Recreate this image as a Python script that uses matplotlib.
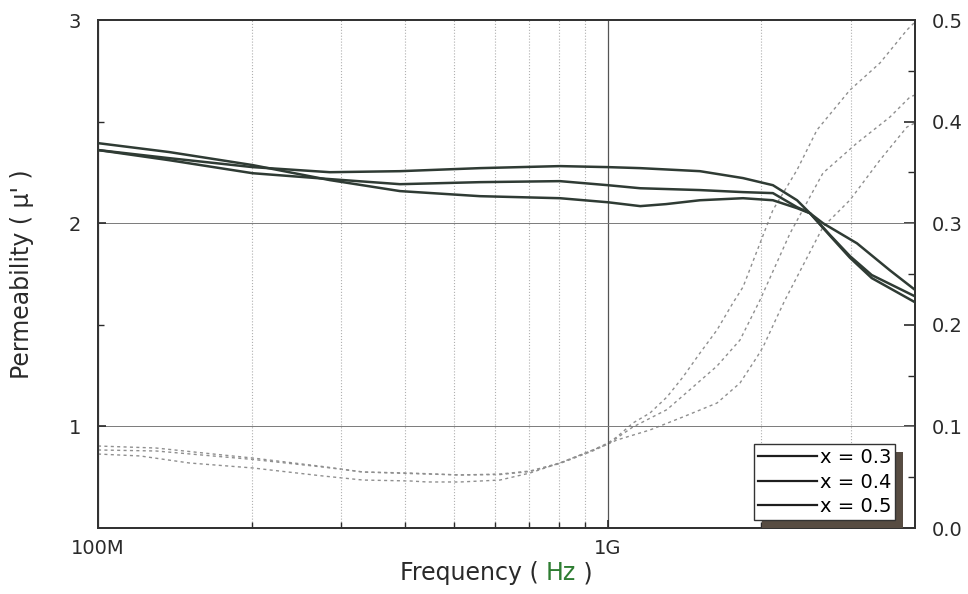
import numpy as np
import matplotlib
matplotlib.use("Agg")
import matplotlib.pyplot as plt
from matplotlib.ticker import FixedLocator, NullFormatter
from matplotlib.patches import Rectangle
from matplotlib.transforms import IdentityTransform

plt.rcParams['font.family'] = ['DejaVu Sans']

# permeabilidad real (eje izquierdo), frecuencia en MHz
f_mu_03 = [100, 138, 201, 285, 391, 561, 805, 1000, 1157, 1515, 1840, 2106, 2348, 2490, 2730, 2982, 3290, 4000]
mu_03 = [2.360, 2.320, 2.276, 2.251, 2.256, 2.271, 2.281, 2.276, 2.271, 2.256, 2.222, 2.187, 2.113, 2.049, 1.936, 1.830, 1.730, 1.611]

f_mu_04 = [100, 138, 201, 285, 391, 561, 805, 1000, 1157, 1515, 1840, 2106, 2348, 2490, 2730, 2982, 3290, 4000]
mu_04 = [2.360, 2.310, 2.246, 2.217, 2.192, 2.202, 2.207, 2.187, 2.172, 2.163, 2.153, 2.148, 2.079, 2.049, 1.940, 1.838, 1.745, 1.640]

f_mu_05 = [100, 138, 201, 285, 391, 561, 805, 1000, 1157, 1300, 1515, 1840, 2106, 2348, 2490, 2640, 3078, 3572, 4000]
mu_05 = [2.394, 2.350, 2.286, 2.212, 2.158, 2.133, 2.123, 2.103, 2.084, 2.094, 2.113, 2.123, 2.113, 2.074, 2.049, 2.000, 1.901, 1.768, 1.672]

# perdidas (eje derecho)
f_lo_a = [100, 130, 176, 201, 276, 331, 409, 513, 614, 703, 805, 935, 1000, 1041, 1119, 1209, 1305, 1403,
          1515, 1636, 1758, 1840, 2106, 2348, 2569, 2982, 3415, 3858, 4000]
lo_a = [0.0807, 0.0787, 0.0718, 0.0689, 0.0605, 0.0551, 0.0541, 0.0522, 0.0531, 0.0561, 0.0640, 0.0768, 0.0837,
        0.0896, 0.1033, 0.1132, 0.1289, 0.1486, 0.1722, 0.1949, 0.2215, 0.2372, 0.3130, 0.3524, 0.3917, 0.4311,
        0.4577, 0.4902, 0.4980]

f_lo_b = [100, 130, 176, 201, 276, 331, 409, 513, 614, 703, 805, 935, 1000, 1041, 1119, 1305, 1468, 1636,
          1815, 1987, 2275, 2640, 3078, 3572, 3910, 4000]
lo_b = [0.0768, 0.0758, 0.0700, 0.0675, 0.0600, 0.0551, 0.0536, 0.0522, 0.0526, 0.0556, 0.0635, 0.0760, 0.0827,
        0.0886, 0.0994, 0.1165, 0.1388, 0.1594, 0.1850, 0.2244, 0.2900, 0.3494, 0.3789, 0.4045, 0.4242, 0.4262]

f_lo_c = [100, 121, 151, 201, 276, 331, 409, 442, 513, 614, 703, 805, 935, 1000, 1041, 1209, 1403, 1636,
          1815, 1960, 2014, 2145, 2224, 2640, 2982, 3415, 3858, 4000]
lo_c = [0.0728, 0.0709, 0.0640, 0.0591, 0.0512, 0.0472, 0.0463, 0.0453, 0.0453, 0.0472, 0.0541, 0.0640, 0.0768,
        0.0827, 0.0866, 0.0965, 0.1093, 0.1230, 0.1427, 0.1683, 0.1781, 0.2077, 0.2244, 0.2963, 0.3228, 0.3622,
        0.3947, 0.3986]

etiquetas = ["x = 0.3", "x = 0.4", "x = 0.5"]

color_linea = '#2f3b34'
color_punto = '#8f8f8f'
color_texto = '#2a2a2a'

fig = plt.figure(figsize=(9.68, 5.94), dpi=100)
ax = fig.add_axes([98/968, 66/594, 817/968, 508/594])
ax2 = ax.twinx()

hz = lambda f: np.array(f) * 1e6

# curvas de perdidas (punteadas)
for f, v in [(f_lo_a, lo_a), (f_lo_b, lo_b), (f_lo_c, lo_c)]:
    ax2.plot(hz(f), v, color=color_punto, lw=1.0, ls=(0, (2.2, 2.4)), zorder=2)

# curvas de permeabilidad
lineas = []
for f, m in [(f_mu_03, mu_03), (f_mu_04, mu_04), (f_mu_05, mu_05)]:
    l, = ax.plot(hz(f), m, color=color_linea, lw=1.8, zorder=3)
    lineas.append(l)

ax.set_xscale('log')
ax.set_xlim(1e8, 4e9)
ax.set_ylim(0.5, 3)
ax2.set_ylim(0, 0.5)

ax.xaxis.set_major_locator(FixedLocator([1e8, 1e9]))
ax.set_xticklabels(['100M', '1G'])
ax.xaxis.set_minor_locator(FixedLocator([2e8, 3e8, 4e8, 5e8, 6e8, 7e8, 8e8, 9e8, 2e9, 3e9]))
ax.xaxis.set_minor_formatter(NullFormatter())

ax.yaxis.set_major_locator(FixedLocator([1, 2, 3]))
ax.set_yticklabels(['1', '2', '3'])
ax.yaxis.set_minor_locator(FixedLocator([1.5, 2.5]))

ax2.yaxis.set_major_locator(FixedLocator([0.0, 0.1, 0.2, 0.3, 0.4, 0.5]))
ax2.set_yticklabels(['0.0', '0.1', '0.2', '0.3', '0.4', '0.5'])
ax2.yaxis.set_minor_locator(FixedLocator([0.05, 0.15, 0.25, 0.35, 0.45]))

ax.tick_params(axis='both', which='major', direction='in', length=6, width=1.2, labelsize=14,
               colors=color_texto, top=False, right=False)
ax.tick_params(axis='both', which='minor', direction='in', length=4, width=1.0, colors=color_texto,
               top=False, right=False)
ax.tick_params(axis='x', which='major', pad=8)
ax.tick_params(axis='y', which='major', pad=12)
ax2.tick_params(axis='y', which='major', direction='in', length=8, width=1.2, labelsize=14,
                colors=color_texto, pad=12)
ax2.tick_params(axis='y', which='minor', direction='in', length=5, width=1.0, colors=color_texto)

# rejilla
ax.grid(True, which='minor', axis='x', ls=':', lw=0.8, color='#b0b0b0')
ax.grid(True, which='major', axis='x', ls='-', lw=0.9, color='#555555')
ax.grid(True, which='major', axis='y', ls='-', lw=0.7, color='#7a7a7a')
ax.set_axisbelow(True)

for a in (ax, ax2):
    for s in a.spines.values():
        s.set_linewidth(1.4)
        s.set_color('#333333')

ax2.set_zorder(ax.zorder - 1)
ax.patch.set_visible(False)

# etiquetas de ejes
fig.text(22/968, (594 - 274)/594, "Permeability ( μ' )", rotation=90, ha='center', va='center',
         fontsize=17, color=color_texto)
t1 = fig.text(400/968, 14/594, "Frequency ( ", ha='left', va='baseline', fontsize=17, color=color_texto)
t2 = ax.annotate("Hz", xy=(1, 0), xycoords=t1, ha='left', va='bottom', fontsize=17, color='#2e7d32',
                 annotation_clip=False)
t3 = ax.annotate(" )", xy=(1, 0), xycoords=t2, ha='left', va='bottom', fontsize=17, color=color_texto,
                 annotation_clip=False)

# leyenda
leg = ax.legend(lineas, etiquetas, loc='lower right', bbox_to_anchor=(0.9755, 0.0157), borderaxespad=0,
                fontsize=14, handlelength=3.0, handletextpad=0.15, labelspacing=0.28, borderpad=0.2,
                fancybox=False, framealpha=1, edgecolor='#333333')
leg.get_frame().set_linewidth(1.0)
for h in leg.legend_handles:
    h.set_color('#1e1e1e')
    h.set_linewidth(1.6)
leg.set_zorder(10)

fig.canvas.draw()
bb = leg.get_window_extent()
sombra = Rectangle((bb.x0 + 8, bb.y0 - 8), bb.width, bb.height, transform=IdentityTransform(),
                   facecolor='#574c42', edgecolor='none', zorder=9)
ax.add_artist(sombra)

fig.savefig('out.png', dpi=100)
